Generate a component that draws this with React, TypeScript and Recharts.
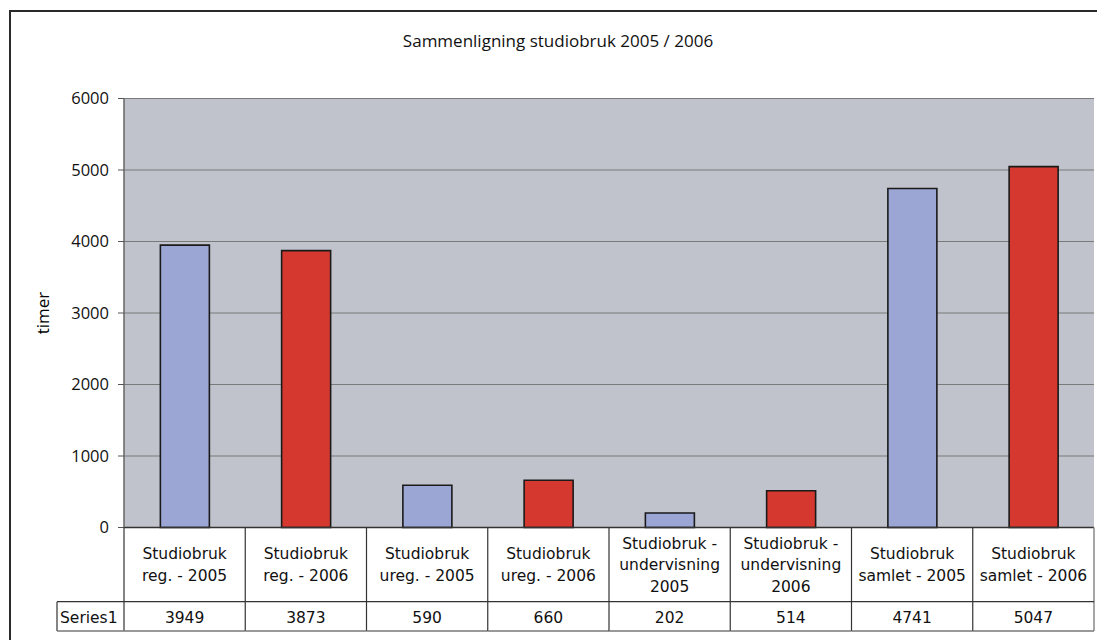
import { BarChart, Bar, XAxis, YAxis, CartesianGrid, Cell } from 'recharts'

const categories = [
  'Studiobruk\nreg. - 2005',
  'Studiobruk\nreg. - 2006',
  'Studiobruk\nureg. - 2005',
  'Studiobruk\nureg. - 2006',
  'Studiobruk -\nundervisning\n2005',
  'Studiobruk -\nundervisning\n2006',
  'Studiobruk\nsamlet - 2005',
  'Studiobruk\nsamlet - 2006',
]
const values = [3949, 3873, 590, 660, 202, 514, 4741, 5047]
const yTicks = [0, 1000, 2000, 3000, 4000, 5000, 6000]
const seriesName = 'Series1'

const data = categories.map((name, i) => ({ name, value: values[i] }))

const W = 1097
const H = 640
const PLOT_LEFT = 124
const PLOT_RIGHT = 1094
const PLOT_TOP = 98.5
const PLOT_BOTTOM = 527.5
const ROW_SPLIT = 601.7
const TABLE_BOTTOM = 631
const BAND = (PLOT_RIGHT - PLOT_LEFT) / categories.length

const BLUE = '#9BA6D4'
const RED = '#D5382F'
const TABLE_FONT = '"DejaVu Sans", sans-serif'

function TableTick(props: any) {
  const { x, payload, index } = props
  const lines = String(payload.value).split('\n')
  const left = x - BAND / 2
  const right = x + BAND / 2
  const first = 570 - ((lines.length - 1) * 21.5) / 2
  const isLast = index === categories.length - 1
  return (
    <g>
      <line x1={left} y1={PLOT_BOTTOM} x2={left} y2={TABLE_BOTTOM} stroke="#333" strokeWidth={1.2} />
      {isLast && (
        <line x1={right} y1={PLOT_BOTTOM} x2={right} y2={TABLE_BOTTOM} stroke="#888" strokeWidth={1.5} />
      )}
      <line x1={left} y1={ROW_SPLIT} x2={right} y2={ROW_SPLIT} stroke="#333" strokeWidth={1.2} />
      <line x1={left} y1={TABLE_BOTTOM} x2={right} y2={TABLE_BOTTOM} stroke="#777" strokeWidth={1.5} />
      <text textAnchor="middle" fontFamily={TABLE_FONT} fontSize={15.5} fill="#111">
        {lines.map((l, i) => (
          <tspan key={i} x={x} y={first + i * 21.5}>
            {l}
          </tspan>
        ))}
      </text>
      <text x={x} y={622.5} textAnchor="middle" fontFamily={TABLE_FONT} fontSize={15.5} fill="#111">
        {values[index]}
      </text>
      {index === 0 && (
        <g>
          <line x1={57} y1={ROW_SPLIT} x2={left} y2={ROW_SPLIT} stroke="#333" strokeWidth={1.2} />
          <line x1={57} y1={ROW_SPLIT} x2={57} y2={TABLE_BOTTOM} stroke="#333" strokeWidth={1.2} />
          <line x1={57} y1={TABLE_BOTTOM} x2={left} y2={TABLE_BOTTOM} stroke="#777" strokeWidth={1.5} />
          <text x={60} y={622.5} fontFamily={TABLE_FONT} fontSize={15.5} fill="#111">
            {seriesName}
          </text>
        </g>
      )}
    </g>
  )
}

export default function App() {
  return (
    <div
      style={{
        position: 'absolute',
        left: 0,
        top: 0,
        width: W,
        height: H,
        overflow: 'hidden',
        background: '#fff',
      }}
    >
      <BarChart
        width={W}
        height={H}
        data={data}
        margin={{ top: PLOT_TOP, right: W - PLOT_RIGHT, left: 0, bottom: 0 }}
        barCategoryGap="30%"
      >
        <CartesianGrid vertical={false} stroke="#7a7a7a" fill="#C0C3CB" fillOpacity={1} strokeWidth={1.2} />
        <XAxis
          dataKey="name"
          interval={0}
          height={H - PLOT_BOTTOM}
          tickLine={false}
          axisLine={{ stroke: '#333', strokeWidth: 1.5 }}
          tick={<TableTick />}
        />
        <YAxis
          domain={[0, 6000]}
          ticks={yTicks}
          width={PLOT_LEFT}
          tickSize={6}
          tickMargin={9}
          tickLine={{ stroke: '#555' }}
          axisLine={{ stroke: '#666', strokeWidth: 1.5 }}
          tick={{ fill: '#111', fontSize: 16.5, fontFamily: '"Open Sans", sans-serif' }}
          interval={0}
        />
        <YAxis
          yAxisId="right"
          orientation="right"
          width={0}
          tick={false}
          tickLine={false}
          axisLine={{ stroke: '#8a8a8a', strokeWidth: 2 }}
        />
        <Bar dataKey="value" stroke="#1a1a1a" strokeWidth={1.6} isAnimationActive={false}>
          {data.map((d, i) => (
            <Cell key={d.name} fill={i % 2 === 0 ? BLUE : RED} />
          ))}
        </Bar>
      </BarChart>
      <div
        style={{
          position: 'absolute',
          left: 0,
          top: 31,
          width: 1116,
          textAlign: 'center',
          fontFamily: '"Open Sans", sans-serif',
          fontSize: 17,
          color: '#111',
          lineHeight: '20px',
        }}
      >
        Sammenligning studiobruk 2005 / 2006
      </div>
      <div
        style={{
          position: 'absolute',
          left: 42.5,
          top: 312.5,
          transform: 'translate(-50%, -50%) rotate(-90deg)',
          fontFamily: '"Open Sans", sans-serif',
          fontSize: 17,
          color: '#000',
          lineHeight: '20px',
        }}
      >
        timer
      </div>
      <div
        style={{
          position: 'absolute',
          left: 9,
          top: 10,
          width: 1200,
          height: 700,
          border: '2px solid #2a2a2a',
          pointerEvents: 'none',
        }}
      />
    </div>
  )
}
